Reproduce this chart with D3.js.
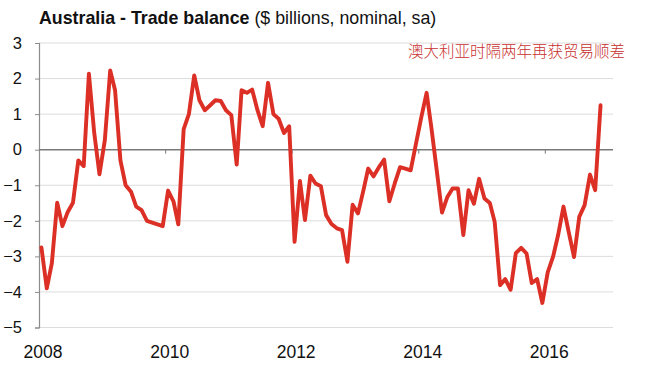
<!DOCTYPE html>
<html>
<head>
<meta charset="utf-8">
<script src="https://cdn.jsdelivr.net/npm/d3@7"></script>
<style>
  html, body { margin: 0; padding: 0; background: #fff; }
  svg { display: block; font-family: "Liberation Sans", Arial, sans-serif; }
</style>
</head>
<body>
<div id="chart"></div>
<script>
// monthly trade balance, Jan 2008 .. Nov 2016 ($bn)
const startYear = 2008;
const balance = [
  -2.75, -3.9, -3.2, -1.49, -2.15, -1.75, -1.49, -0.3, -0.46, 2.14, 0.46, -0.69,
  0.27, 2.23, 1.67, -0.3, -1.0, -1.18, -1.6, -1.7, -2.0, -2.05, -2.1, -2.15,
  -1.15, -1.45, -2.1, 0.58, 1.0, 2.09, 1.39, 1.11, 1.25, 1.39, 1.37, 1.11,
  0.97, -0.42, 1.67, 1.6, 1.69, 1.11, 0.66, 1.88, 1.0, 0.87, 0.47, 0.66,
  -2.59, -0.88, -1.98, -0.73, -0.95, -1.03, -1.84, -2.09, -2.21, -2.26, -3.15, -1.55,
  -1.79, -1.15, -0.53, -0.75, -0.5, -0.28, -1.45, -0.95, -0.49, -0.53, -0.58, 0.15,
  0.9, 1.6, 0.6, -0.6, -1.77, -1.33, -1.09, -1.09, -2.4, -1.14, -1.52, -0.82,
  -1.37, -1.5, -2.03, -3.81, -3.64, -3.94, -2.91, -2.76, -2.92, -3.75, -3.64, -4.31,
  -3.45, -3.01, -2.4, -1.6, -2.31, -3.02, -1.89, -1.56, -0.7, -1.14, 1.25
];
const yTicks = [3, 2, 1, 0, -1, -2, -3, -4, -5];
const xTickYears = [2008, 2010, 2012, 2014, 2016];
const title = 'Australia - Trade balance';
const subtitle = ' ($ billions, nominal, sa)';
const note = '澳大利亚时隔两年再获贸易顺差';

const W = 646, H = 372;
const M = { t: 43, r: 33, b: 44.5, l: 39 };

const svg = d3.select('#chart').append('svg')
  .attr('width', W)
  .attr('height', H)
  .attr('viewBox', `0 0 ${W} ${H}`);

const x = d3.scaleUtc()
  .domain([new Date(Date.UTC(2008, 0, 1)), new Date(Date.UTC(2017, 0, 1))])
  .range([M.l, M.l + 9 * 63.3]);

const y = d3.scaleLinear()
  .domain([-5, 3])
  .range([H - M.b, M.t]);

const pts = balance.map((v, i) => ({ d: new Date(Date.UTC(startYear, i, 15)), v }));

// gridlines
svg.append('g')
  .selectAll('line')
  .data(yTicks.filter(t => t !== 0))
  .enter().append('line')
  .attr('x1', M.l).attr('x2', W - M.r)
  .attr('y1', d => y(d)).attr('y2', d => y(d))
  .attr('stroke', '#dcdcdc')
  .attr('stroke-width', 1);

// y axis
const yAxis = svg.append('g')
  .attr('transform', `translate(${M.l},0)`)
  .call(d3.axisLeft(y).tickValues(yTicks).tickSize(4).tickPadding(13).tickFormat(d3.format('d')));
yAxis.select('.domain').attr('stroke', '#8c8c8c').attr('stroke-width', 1.2);
yAxis.selectAll('.tick line').attr('stroke', '#8c8c8c');
yAxis.selectAll('.tick text')
  .attr('fill', '#111')
  .style('font-size', '16.5px')
  .style('font-family', '"Liberation Sans", Arial, sans-serif');

// zero line with year ticks
svg.append('line')
  .attr('x1', M.l).attr('x2', W - M.r)
  .attr('y1', y(0)).attr('y2', y(0))
  .attr('stroke', '#7a7a7a')
  .attr('stroke-width', 1.6);

svg.append('g')
  .selectAll('line')
  .data(xTickYears.slice(1))
  .enter().append('line')
  .attr('x1', d => x(new Date(Date.UTC(d, 0, 1))))
  .attr('x2', d => x(new Date(Date.UTC(d, 0, 1))))
  .attr('y1', y(0)).attr('y2', y(0) + 4)
  .attr('stroke', '#7a7a7a');

// year labels at bottom
svg.append('g')
  .selectAll('text')
  .data(xTickYears)
  .enter().append('text')
  .attr('x', d => x(new Date(Date.UTC(d, 0, 1))) + 4)
  .attr('y', 358)
  .attr('text-anchor', 'middle')
  .attr('fill', '#111')
  .style('font-size', '17.5px')
  .text(d => d);

// series
const line = d3.line()
  .x(d => x(d.d))
  .y(d => y(d.v));

svg.append('path')
  .datum(pts)
  .attr('fill', 'none')
  .attr('stroke', '#dc2f26')
  .attr('stroke-width', 3.9)
  .attr('stroke-linejoin', 'round')
  .attr('stroke-linecap', 'round')
  .attr('d', line);

// title
const t = svg.append('text')
  .attr('x', 39)
  .attr('y', 24)
  .attr('fill', '#111')
  .style('font-size', '17.8px');
t.append('tspan').attr('font-weight', 'bold').text(title);
t.append('tspan').text(subtitle);

svg.append('text')
  .attr('x', 625)
  .attr('y', 57)
  .attr('text-anchor', 'end')
  .attr('fill', '#c8302e')
  .style('font-family', '"Noto Sans CJK SC", sans-serif')
  .style('font-size', '15.5px')
  .style('font-weight', 300)
  .text(note);
</script>
</body>
</html>
